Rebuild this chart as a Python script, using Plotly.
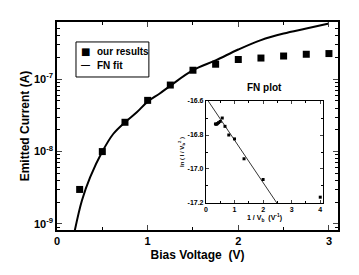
import plotly.graph_objects as go

# ---- main data ----
bias_v = [0.25, 0.5, 0.75, 1.0, 1.25, 1.5, 1.75, 2.0, 2.25, 2.5, 2.75, 3.0]
current_a = [3.0e-9, 1.0e-8, 2.54e-8, 5.1e-8, 8.3e-8, 1.33e-7, 1.61e-7, 1.87e-7,
             1.96e-7, 2.09e-7, 2.21e-7, 2.26e-7]

fit_v = [0.195, 0.275, 0.366, 0.50, 0.62, 0.75, 0.88, 1.0, 1.13, 1.25, 1.5, 1.75,
         2.0, 2.25, 2.5, 2.75, 3.0]
fit_i = [8.0e-10, 2.11e-9, 4.43e-9, 1.0e-8, 1.75e-8, 2.54e-8, 3.49e-8, 4.9e-8,
         6.3e-8, 8.1e-8, 1.33e-7, 1.82e-7, 2.57e-7, 3.47e-7, 4.27e-7, 5.0e-7, 5.86e-7]

# ---- inset (FN plot) data ----
inv_v = [0.333, 0.364, 0.4, 0.444, 0.5, 0.571, 0.667, 0.8, 1.0, 1.333, 2.0, 4.0]
ln_iv2 = [-16.735, -16.737, -16.733, -16.727, -16.72, -16.70, -16.749, -16.80,
          -16.823, -16.94, -17.062, -17.166]
fn_line_x = [0.08, 2.48]
fn_line_y = [-16.6, -17.2]

y_major = [1e-9, 1e-8, 1e-7]
y_major_text = ["10<sup>-9</sup>", "10<sup>-8</sup>", "10<sup>-7</sup>"]
y_minor = [k * 10.0 ** e for e in range(-10, -5) for k in range(2, 10)]

inset_yticks = [-16.6, -16.8, -17.0, -17.2]
inset_ytext = ["-16.6", "-16.8", "-17.0", "-17.2"]

legend_labels = ["our results", "FN fit"]

FONT = "Liberation Sans, Arial, sans-serif"

fig = go.Figure()
fig.add_trace(go.Scatter(x=bias_v, y=current_a, mode="markers", name=legend_labels[0],
                         showlegend=False,
                         marker=dict(symbol="square", size=7, color="black")))
fig.add_trace(go.Scatter(x=fit_v, y=fit_i, mode="lines", name=legend_labels[1],
                         showlegend=False,
                         line=dict(color="black", width=2, shape="spline")))
fig.add_trace(go.Scatter(x=inv_v, y=ln_iv2, mode="markers", showlegend=False,
                         marker=dict(symbol="square", size=3, color="black"),
                         xaxis="x2", yaxis="y2"))
fig.add_trace(go.Scatter(x=fn_line_x, y=fn_line_y, mode="lines", showlegend=False,
                         line=dict(color="black", width=0.8), xaxis="x2", yaxis="y2"))

# compact legend box (as in the reference)
leg_x0, leg_x1, leg_y0, leg_y1 = 0.0676, 0.327, 0.7356, 0.904
key_x, text_x = 0.103, 0.135
row_y = [0.856, 0.793]
annotations = [
    dict(text="■", x=key_x, y=row_y[0], xref="paper", yref="paper", xanchor="center",
         yanchor="middle", showarrow=False, font=dict(size=10, family="DejaVu Sans")),
    dict(text="—", x=key_x, y=row_y[1], xref="paper", yref="paper", xanchor="center",
         yanchor="middle", showarrow=False, font=dict(size=9, weight="bold")),
    dict(text=legend_labels[0], x=text_x, y=row_y[0], xref="paper", yref="paper",
         xanchor="left", yanchor="middle", showarrow=False,
         font=dict(size=10, weight="bold")),
    dict(text=legend_labels[1], x=text_x, y=row_y[1], xref="paper", yref="paper",
         xanchor="left", yanchor="middle", showarrow=False,
         font=dict(size=10, weight="bold")),
    dict(text="FN plot", xref="x2 domain", yref="y2 domain", x=0.5, y=1.0,
         xanchor="center", yanchor="bottom", yshift=6, showarrow=False,
         font=dict(size=10, weight="bold")),
]
shapes = [dict(type="rect", xref="paper", yref="paper", x0=leg_x0, x1=leg_x1,
               y0=leg_y0, y1=leg_y1, line=dict(color="black", width=1),
               fillcolor="white", layer="above")]

fig.update_layout(
    width=359, height=275,
    margin=dict(l=57, r=21, t=22, b=45),
    paper_bgcolor="white", plot_bgcolor="white",
    font=dict(family=FONT, color="black", size=11, weight="bold"),
    showlegend=False,
    xaxis=dict(range=[0, 3.1], tickvals=[0, 1, 2, 3], ticks="inside", ticklen=5,
               tickwidth=1.2, showline=True, linecolor="black", linewidth=1.5,
               mirror="allticks", showgrid=False, zeroline=False,
               minor=dict(tickvals=[0.5, 1.5, 2.5], ticks="inside", ticklen=3,
                          tickwidth=1.2, tickcolor="black"),
               tickfont=dict(size=11, weight="bold"),
               title=dict(text="Bias Voltage \u00a0(V)", font=dict(size=12, weight="bold"),
                          standoff=5)),
    yaxis=dict(type="log", range=[-9.083, -6.21], tickvals=y_major, ticktext=y_major_text,
               ticks="inside", ticklen=5, tickwidth=1.2, showline=True,
               linecolor="black", linewidth=1.5, mirror="allticks", showgrid=False,
               minor=dict(tickvals=y_minor, ticks="inside", ticklen=3, tickwidth=1,
                          tickcolor="black"),
               tickfont=dict(size=11, weight="bold"),
               title=dict(text="Emitted Current (A)", font=dict(size=12, weight="bold"),
                          standoff=2)),
    xaxis2=dict(domain=[0.530, 0.947], anchor="y2", range=[0, 4.1],
                tickvals=[0, 1, 2, 3, 4], ticks="inside", ticklen=3, tickwidth=0.8,
                showline=True, linecolor="black", linewidth=1, mirror="allticks",
                showgrid=False, zeroline=False,
                minor=dict(tickvals=[0.5, 1.5, 2.5, 3.5], ticks="inside", ticklen=2,
                           tickwidth=0.8, tickcolor="black"),
                tickfont=dict(size=7, weight="bold"),
                title=dict(text="1 / V<sub>b</sub>  (V<sup>-1</sup>)",
                           font=dict(size=7, weight="bold"), standoff=2)),
    yaxis2=dict(domain=[0.130, 0.620], anchor="x2", range=[-17.2, -16.6],
                tickvals=inset_yticks, ticktext=inset_ytext, ticks="inside", ticklen=3,
                tickwidth=0.8, showline=True, linecolor="black", linewidth=1,
                mirror="allticks", showgrid=False, zeroline=False,
                minor=dict(tickvals=[-16.7, -16.9, -17.1], ticks="inside", ticklen=2,
                           tickwidth=0.8, tickcolor="black"),
                tickfont=dict(size=7, weight="bold"),
                title=dict(text="ln ( I / V<sub>b</sub><sup>2</sup> )",
                           font=dict(size=6, weight="bold"), standoff=2)),
    annotations=annotations,
    shapes=shapes,
)

fig.write_html("out.html", config={"displayModeBar": False},
               post_script="document.body.style.margin='0';")
